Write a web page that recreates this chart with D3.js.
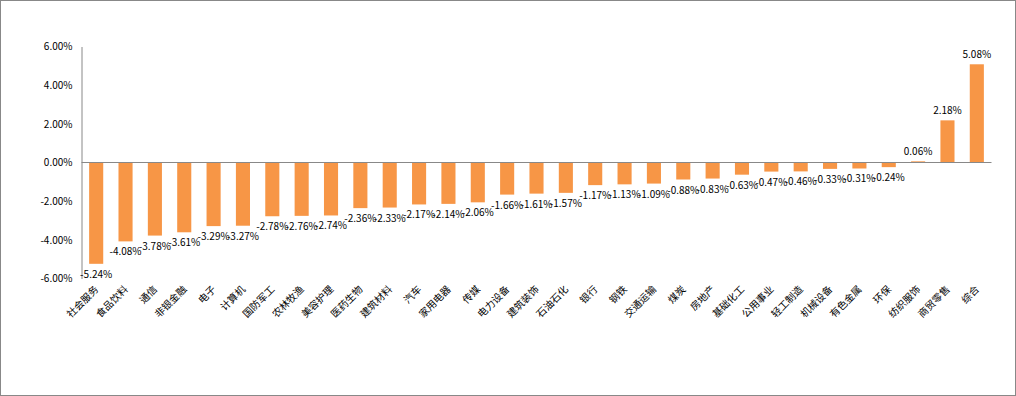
<!DOCTYPE html>
<html>
<head>
<meta charset="utf-8">
<script src="https://cdn.jsdelivr.net/npm/d3@7"></script>
<style>
  body { margin: 0; background: #fff; }
  text { font-family: "Noto Sans CJK SC", "DejaVu Sans", sans-serif; fill: #000; }
</style>
</head>
<body>
<svg class="industry_chart" width="1016" height="396"></svg>
<script>
var categories = ["社会服务", "食品饮料", "通信", "非银金融", "电子", "计算机", "国防军工", "农林牧渔",
  "美容护理", "医药生物", "建筑材料", "汽车", "家用电器", "传媒", "电力设备", "建筑装饰", "石油石化",
  "银行", "钢铁", "交通运输", "煤炭", "房地产", "基础化工", "公用事业", "轻工制造", "机械设备",
  "有色金属", "环保", "纺织服饰", "商贸零售", "综合"];
var values = [-5.24, -4.08, -3.78, -3.61, -3.29, -3.27, -2.78, -2.76, -2.74, -2.36, -2.33, -2.17,
  -2.14, -2.06, -1.66, -1.61, -1.57, -1.17, -1.13, -1.09, -0.88, -0.83, -0.63, -0.47, -0.46, -0.33,
  -0.31, -0.24, 0.06, 2.18, 5.08];
var yTicks = [-6, -4, -2, 0, 2, 4, 6];

var svg = d3.select("svg.industry_chart");

// outer frame
svg.append("rect")
    .attr("x", 0.5).attr("y", 0.5)
    .attr("width", 1015).attr("height", 395)
    .attr("fill", "#fff")
    .attr("stroke", "#888");

var x = d3.scaleBand()
    .domain(categories)
    .range([81.5, 991.5])
    .paddingInner(0.52)
    .paddingOuter(0.26);

var y = d3.scaleLinear()
    .domain([-6, 6])
    .range([278.5, 46.5]);

var fmt = function (v) { return v.toFixed(2) + "%"; };

// y axis
var yAxis = svg.append("g")
    .attr("transform", "translate(81.5,0)")
    .call(d3.axisLeft(y).tickValues(yTicks).tickSize(0).tickPadding(9).tickFormat(fmt));
yAxis.select(".domain").attr("stroke", "#888");
yAxis.selectAll("text").style("font-size", "10px").attr("fill", "#000");

// bars
svg.selectAll(".bar")
    .data(values)
  .enter().append("rect")
    .attr("class", "bar")
    .attr("x", function (d, i) { return x(categories[i]); })
    .attr("width", x.bandwidth())
    .attr("y", function (d) { return y(Math.max(0, d)); })
    .attr("height", function (d) { return Math.abs(y(d) - y(0)); })
    .attr("fill", "#F79646");

// zero line
svg.append("line")
    .attr("x1", 81.5).attr("x2", 991.5)
    .attr("y1", y(0)).attr("y2", y(0))
    .attr("stroke", "#888");

// value labels
svg.selectAll(".val")
    .data(values)
  .enter().append("text")
    .attr("class", "val")
    .attr("text-anchor", "middle")
    .attr("x", function (d, i) { return x(categories[i]) + x.bandwidth() / 2; })
    .attr("y", function (d) { return d < 0 ? y(d) + 14 : y(d) - 6; })
    .style("font-size", "10px")
    .text(fmt);

// category labels, rotated
svg.selectAll(".cat")
    .data(categories)
  .enter().append("text")
    .attr("class", "cat")
    .attr("text-anchor", "end")
    .attr("transform", function (d) {
      return "translate(" + (x(d) + x.bandwidth() / 2 + 3) + ",290) rotate(-45)";
    })
    .style("font-size", "10px")
    .attr("fill", "#222")
    .text(function (d) { return d; });
</script>
</body>
</html>
